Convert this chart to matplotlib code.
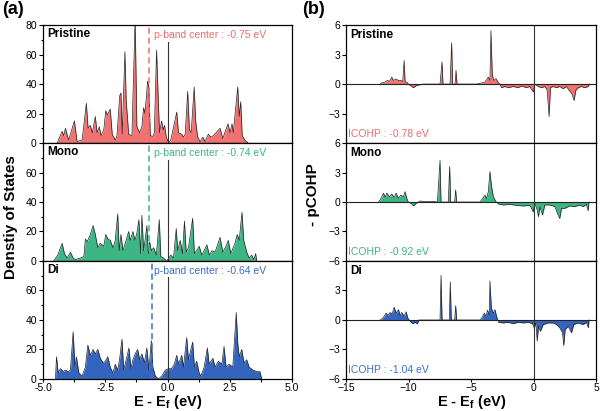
import numpy as np
import matplotlib
matplotlib.use('Agg')
import matplotlib.pyplot as plt
from matplotlib.ticker import MultipleLocator

plt.rcParams['font.family'] = ['Liberation Sans', 'DejaVu Sans']

## ::: Data ::: ##
# -> DOS (left), energies in eV
pri_e = [-4.43, -4.23, -4.17, -4.10, -3.97, -3.74, -3.63, -3.43, -3.26, -3.19, -3.10, -3.02, -2.90, -2.83,
         -2.74, -2.67, -2.56, -2.48, -2.42, -2.30, -2.22, -2.10, -2.03, -1.92, -1.87, -1.82, -1.71, -1.66,
         -1.56, -1.43, -1.30, -1.23, -1.12, -1.03, -0.96, -0.91, -0.85, -0.80, -0.75, -0.69, -0.59, -0.53,
         -0.44, -0.37, -0.32, -0.24, -0.17, -0.12, -0.05, 0.00, 0.04, 0.13, 0.37, 0.44, 0.57, 0.64, 0.71,
         0.81, 0.88, 0.95, 1.07, 1.13, 1.21, 1.31, 1.42, 1.51, 1.64, 1.74, 1.84, 2.11, 2.22, 2.32, 2.43,
         2.51, 2.59, 2.64, 2.82, 2.88, 2.94, 3.00, 3.11, 3.24]
pri_dos = [0, 8, 5, 10, 2, 15, 1, 2, 27, 10, 12, 7, 18, 7,
           11, 5, 9, 22, 19, 23, 6, 2, 5, 32, 34, 6, 62, 29,
           6, 5, 85, 11, 7, 11, 24, 20, 31, 42, 38, 5, 4.5, 7,
           63, 29, 7, 15, 9, 12, 4, 2, 0, 2, 21, 7, 6, 4, 6,
           35, 9, 7, 38, 15, 4, 1, 4, 1, 6, 4, 5, 10, 3, 8, 13,
           7, 13, 7, 38, 18, 28, 5, 2, 0]

mono_e = [-4.57, -4.41, -4.23, -4.14, -4.03, -3.90, -3.79, -3.70, -3.50, -3.36, -3.30, -3.23, -3.12, -2.99,
          -2.90, -2.80, -2.70, -2.56, -2.48, -2.40, -2.30, -2.19, -2.10, -2.00, -1.94, -1.87, -1.79, -1.70,
          -1.56, -1.50, -1.39, -1.31, -1.23, -1.15, -1.08, -1.03, -0.96, -0.88, -0.83, -0.77, -0.72, -0.65,
          -0.56, -0.45, -0.33, -0.27, -0.16, -0.03, 0.13, 0.24, 0.35, 0.41, 0.51, 0.60, 0.68, 0.75, 0.84,
          1.01, 1.08, 1.17, 1.27, 1.38, 1.47, 1.58, 1.68, 1.79, 1.91, 2.11, 2.22, 2.35, 2.44, 2.54, 2.71,
          2.80, 2.88, 2.99, 3.06, 3.18, 3.28, 3.38, 3.47, 3.54, 3.58]
mono_dos = [0, 4, 12, 5, 2, 6, 2, 1, 2, 3, 15, 13, 17, 24,
            18, 9, 12, 10, 18, 15, 14, 9, 14, 32, 7, 18, 7, 12,
            20, 14, 20, 14, 19, 28, 5, 31, 7, 17, 24, 5, 13, 7,
            9, 4, 28, 3, 2, 0, 4, 2, 22, 7, 14, 5, 27, 6, 9,
            29, 5, 7, 10, 4, 7, 11, 4, 7, 6, 16, 6, 10, 14, 5, 12,
            18, 14, 33, 14, 6, 2, 4, 1, 5, 0]

di_e = [-4.50, -4.46, -4.39, -4.30, -4.19, -4.10, -3.99, -3.90, -3.79, -3.72, -3.66, -3.56, -3.43, -3.30,
        -3.20, -3.10, -2.99, -2.90, -2.80, -2.70, -2.59, -2.50, -2.40, -2.30, -2.19, -2.10, -2.00, -1.92,
        -1.83, -1.76, -1.66, -1.55, -1.47, -1.39, -1.30, -1.20, -1.12, -1.03, -0.93, -0.83, -0.75, -0.65,
        -0.59, -0.49, -0.36, -0.23, -0.09, 0.04, 0.17, 0.27, 0.37, 0.44, 0.57, 0.64, 0.77, 0.84, 1.01,
        1.08, 1.17, 1.27, 1.34, 1.47, 1.60, 1.67, 1.82, 1.91, 2.04, 2.18, 2.27, 2.35, 2.48, 2.62, 2.76,
        2.82, 2.88, 2.98, 3.07, 3.18, 3.28, 3.44, 3.58, 3.71, 3.78]
di_dos = [0, 15, 4, 7, 5, 6, 5, 6, 32, 8, 15, 4, 2, 8,
          23, 16, 20, 17, 20, 14, 11, 12, 15, 8, 4, 10, 6, 14,
          27, 6, 13, 21, 7, 13, 17, 20, 13, 17, 11, 21, 6, 26,
          8, 2, 0, 2, 6, 7, 7, 10, 16, 10, 16, 8, 28, 13, 25,
          8, 12, 4, 2, 8, 21, 10, 14, 8, 12, 10, 22, 8, 10, 8, 45,
          24, 15, 20, 11, 13, 8, 6, 5, 5, 0]

# -> pCOHP (right)
pri_ce = [-12.29, -12.15, -11.89, -11.70, -11.54, -11.36, -11.22, -11.01, -10.82, -10.64, -10.48, -10.37,
          -10.29, -10.16, -10.03, -9.76, -9.63, -9.41, -9.23, -8.96, -8.83, -7.50, -7.34, -7.26, -6.70,
          -6.57, -6.49, -6.30, -6.22, -6.14, -4.57, -4.31, -3.91, -3.78, -3.64, -3.51, -3.43, -3.32, -3.19,
          -3.03, -2.87, -2.71, -2.58, -2.31, -2.05, -1.65, -1.25, -0.98, -0.59, -0.32, -0.13, -0.03, 0.08,
          0.35, 0.61, 0.88, 1.06, 1.22, 1.33, 1.54, 1.81, 2.07, 2.34, 2.61, 2.82, 3.01, 3.22, 3.35, 3.54,
          3.80, 4.07, 4.34, 4.47]
pri_cohp = [0, 0.14, 0.2, 0.37, 0.27, 0.7, 0.37, 0.5, 0.37, 0.37, 0.27, 2.4,
            0.2, 0.2, 0, -0.25, -0.37, -0.17, -0.1, -0.05, 0, 0, 2.25, 0, 0,
            4.2, 0, 0, 1.4, 0, 0, 0.07, 0.2, 0.44, 0.7, 0.37, 5.43, 0.9, 0.37,
            0.55, 0.2, -0.03, -0.37, -0.25, -0.37, -0.25, -0.37, -0.2, -0.37, -0.25, -0.65, -0.8, 0,
            -0.25, -0.37, -0.25, -0.6, -3.3, -0.37, -0.25, -0.37, -0.25, -0.47, -0.25, -0.65, -0.9, -1.67, -0.65, -0.37,
            -0.25, -0.37, -0.25, 0]

mono_ce = [-12.42, -12.29, -12.15, -12.02, -11.89, -11.76, -11.54, -11.36, -11.17, -11.01, -10.82, -10.64,
           -10.43, -10.29, -10.16, -10.03, -9.76, -9.63, -9.41, -9.23, -9.10, -8.56, -8.03, -7.71, -7.50,
           -7.42, -6.84, -6.73, -6.65, -6.33, -6.25, -6.17, -4.31, -4.18, -3.91, -3.78, -3.64, -3.51, -3.38,
           -3.24, -3.06, -2.85, -2.45, -1.91, -1.38, -0.85, -0.32, -0.05, 0.08, 0.27, 0.37, 0.48, 0.69, 0.88,
           1.28, 1.68, 1.94, 2.07, 2.21, 2.47, 2.87, 3.27, 3.67, 3.94, 4.20, 4.34, 4.41]
mono_cohp = [0, 0.2, 0.55, 0.9, 0.48, 0.9, 0.55, 0.82, 0.48, 0.9, 0.37, 0.7,
             0.55, 1.05, 0.37, 0, -0.2, -0.4, -0.14, 0, 0.1, 0.03, 0.07, 0, 4.23,
             0, 0, 3.62, 0, 0, 1.23, 0, 0, 0.2, 0.7, 0.37, 1.05, 3.1, 1.57,
             0.55, 0.1, -0.2, -0.3, -0.24, -0.34, -0.4, -0.34, -1.0, -0.14, -0.82, -1.5, -0.5, -1.33, -0.3,
             -0.3, -0.47, -1.33, -1.67, -0.65, -0.65, -0.4, -0.47, -0.3, -0.47, -0.24, -0.9, 0]

di_ce = [-12.29, -12.15, -11.97, -11.81, -11.68, -11.49, -11.33, -11.17, -11.01, -10.82, -10.69, -10.56,
         -10.37, -10.21, -10.08, -9.89, -9.68, -9.49, -9.31, -9.20, -7.50, -7.42, -7.34, -6.76, -6.68,
         -6.60, -6.33, -6.25, -6.17, -4.31, -4.18, -3.96, -3.83, -3.70, -3.56, -3.51, -3.40, -3.24, -3.11,
         -2.98, -2.82, -2.45, -2.05, -1.65, -1.25, -0.85, -0.45, -0.11, 0.03, 0.16, 0.27, 0.37, 0.53, 0.74,
         1.14, 1.54, 1.81, 2.07, 2.29, 2.39, 2.50, 2.74, 3.01, 3.19, 3.54, 3.94, 4.20, 4.36, 4.41]
di_cohp = [0, 0.1, 0.37, 0.7, 0.47, 0.77, 0.6, 1.3, 0.7, 1.05, 0.44, 0.77,
           0.37, 0.84, 0.2, -0.13, -0.37, -0.24, -0.4, 0, 0, 4.55, 0, 0, 3.87,
           0, 0, 1.45, 0, 0, 0.17, 0.7, 0.37, 1.0, 0.5, 3.97, 1.2, 0.7, 1.05,
           0.37, -0.24, -0.3, -0.24, -0.37, -0.24, -0.3, -0.24, -0.37, -0.8, -0.3, -2.15, -0.63, -1.15, -0.47,
           -0.3, -0.3, -0.47, -0.8, -1.3, -2.6, -0.97, -0.63, -1.3, -0.47, -0.3, -0.47, -0.24, -0.8, 0]

names = ['Pristine', 'Mono', 'Di']
band_center = [-0.75, -0.74, -0.64]
icohp = [-0.78, -0.92, -1.04]
fill_colors = ['#F27272', '#3DB584', '#3465BE']
text_colors = ['#F06C6C', '#3DB584', '#3A6FCB']

dos_e = [pri_e, mono_e, di_e]
dos_y = [pri_dos, mono_dos, di_dos]
cohp_e = [pri_ce, mono_ce, di_ce]
cohp_y = [pri_cohp, mono_cohp, di_cohp]

## ::: Figure ::: ##
fig = plt.figure(figsize=(6, 4.11), dpi=100)
h = 0.287
bottoms = [0.652, 0.365, 0.078]

for i in range(3):
    # -- left: DOS
    ax = fig.add_axes([0.0717, bottoms[i], 0.415, h])
    ax.fill_between(dos_e[i], dos_y[i], 0, color=fill_colors[i], lw=0)
    ax.plot(dos_e[i], dos_y[i], color='#222222', lw=0.5)
    ax.axvline(band_center[i], color=text_colors[i], ls=(0, (4, 2.5)), lw=1.1)
    ax.axvline(0, ymax=0.86, color='#333333', lw=0.8)
    ax.set_xlim(-5, 5)
    ax.set_ylim(0, 80)
    ax.xaxis.set_minor_locator(MultipleLocator(1.25))
    ax.yaxis.set_minor_locator(MultipleLocator(10))
    if i == 0:
        ax.set_yticks([0, 20, 40, 60, 80])
    else:
        ax.set_yticks([0, 20, 40, 60])
    ax.tick_params(which='both', direction='out', labelsize=7.5, width=0.8, pad=1.5)
    ax.tick_params(which='major', length=3)
    ax.tick_params(which='minor', length=1.8)
    ax.tick_params(axis='x', which='both', length=2, pad=1)
    ax.text(-4.85, 74, names[i], fontsize=8.5, fontweight='bold', va='center')
    ax.text(-0.55, 73.5, 'p-band center : %.2f eV' % band_center[i], fontsize=7.5,
            color=text_colors[i], va='center')
    if i < 2:
        ax.tick_params(axis='x', which='both', bottom=False, labelbottom=False)
    else:
        ax.set_xticks([-5, -2.5, 0, 2.5, 5])
        ax.set_xticklabels(['-5.0', '-2.5', '0.0', '2.5', '5.0'])
        ax.set_xlabel('E - E$_\\mathregular{f}$ (eV)', fontsize=10.5, fontweight='bold', labelpad=0)
    if i == 1:
        ax.set_ylabel('Denstiy of States', fontsize=11, fontweight='bold')
        ax.yaxis.set_label_coords(-0.1, 0.37)
    for s in ax.spines.values():
        s.set_linewidth(0.9)

    # -- right: pCOHP
    bx = fig.add_axes([0.577, bottoms[i], 0.417, h])
    bx.fill_between(cohp_e[i], cohp_y[i], 0, color=fill_colors[i], lw=0)
    bx.plot(cohp_e[i], cohp_y[i], color='#222222', lw=0.5)
    bx.axhline(0, color='#222222', lw=0.8)
    bx.axvline(0, color='#333333', lw=0.8)
    bx.set_xlim(-15, 5)
    bx.set_ylim(-6, 6)
    if i == 0:
        bx.set_yticks([6, 3, 0, -3])
    elif i == 1:
        bx.set_yticks([6, 3, 0, -3, -6])
    else:
        bx.set_yticks([3, 0, -3, -6])
    bx.tick_params(which='both', direction='out', labelsize=7.5, width=0.8, length=3, pad=1.5)
    bx.tick_params(axis='x', length=2, pad=1)
    bx.text(-14.7, 5.0, names[i], fontsize=8.5, fontweight='bold', va='center')
    bx.text(-14.85, -5.06, 'ICOHP : %.2f eV' % icohp[i], fontsize=7.5,
            color=text_colors[i], va='center')
    if i < 2:
        bx.tick_params(axis='x', bottom=False, labelbottom=False)
    else:
        bx.set_xticks([-15, -10, -5, 0, 5])
        bx.set_xlabel('E - E$_\\mathregular{f}$ (eV)', fontsize=10.5, fontweight='bold', labelpad=0)
    if i == 1:
        bx.set_ylabel('- pCOHP', fontsize=11, fontweight='bold')
        bx.yaxis.set_label_coords(-0.105, 0.56)
    for s in bx.spines.values():
        s.set_linewidth(0.9)

fig.text(0.003, 0.977, '(a)', fontsize=13, fontweight='bold', va='center')
fig.text(0.503, 0.977, '(b)', fontsize=13, fontweight='bold', va='center')

fig.savefig('out.png', dpi=100)
